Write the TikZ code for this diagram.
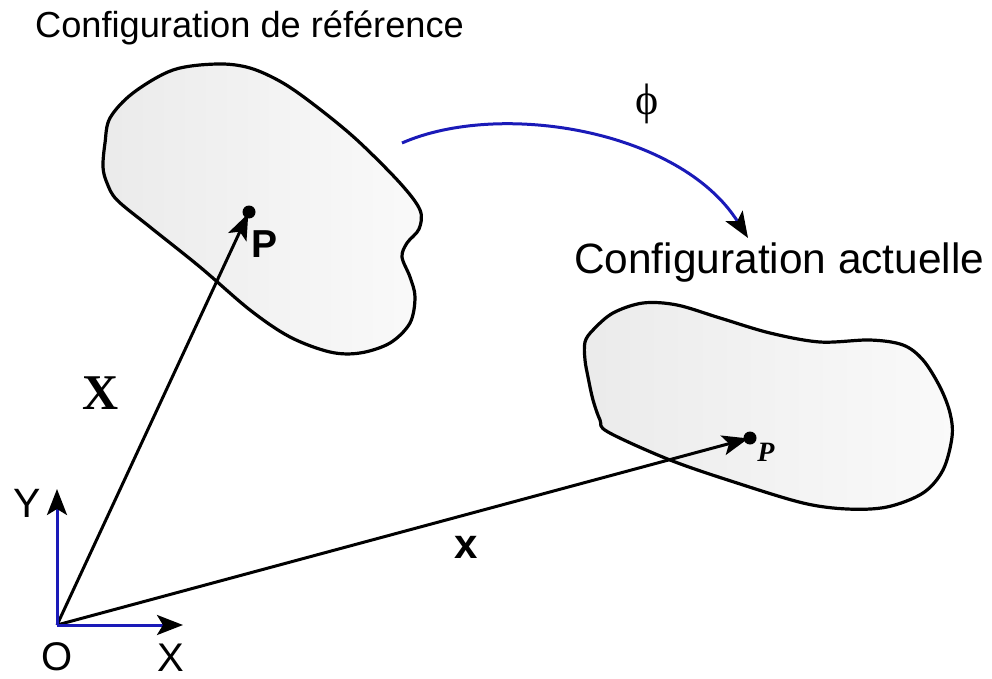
\documentclass[tikz,border=0pt]{standalone}
\usepackage{fontspec}
\setmainfont{Liberation Serif}
\setsansfont{Liberation Sans}
\usepackage{xcolor}
\usetikzlibrary{arrows.meta,calc}
\tikzset{>={Stealth[length=26pt,width=20pt,inset=6pt]}}
\definecolor{axeblue}{HTML}{1A1AB8}

\begin{document}
\begin{tikzpicture}[x=1pt,y=-1pt,
  blob/.style={draw=black,line width=3.2pt,left color=black!8,right color=black!2},
  vec/.style={->,line width=3pt,shorten >=-5pt},
  axe/.style={draw=axeblue,line width=3pt,-{Stealth[length=26pt,width=20pt,inset=6pt,black]}},
  dotP/.style={circle,fill=black,inner sep=0pt,minimum size=13pt}]
\useasboundingbox (0,0) rectangle (992,679);
% reference and current configurations
\draw[blob] plot[smooth cycle,tension=0.55] coordinates {
  (110,118) (133,93) (173,70) (217,64) (250,68) (283,83) (317,107) (357,140)
  (400,183) (420,210) (419,229) (407,243) (402,257) (410,277) (415,297)
  (410,323) (390,343) (360,353) (330,352) (290,337) (250,310) (200,267)
  (150,227) (117,200) (107,183) (103,167) (105,143)};
\draw[blob] plot[smooth cycle,tension=0.55] coordinates {
  (585,342) (593,330) (613,313) (643,303) (677,305) (720,318) (770,333)
  (820,342) (870,340) (903,345) (923,360) (940,387) (950,413) (952,437)
  (943,470) (923,493) (887,507) (847,509) (803,503) (737,483) (670,460)
  (608,432) (600,420) (593,400) (588,377) (585,360)};
\coordinate (O) at (57,625);
\coordinate (Yend) at (57,489);
\coordinate (Xend) at (183,625);
\node[dotP] (P1) at (249,212) {};
\node[dotP] (P2) at (750,438) {};
\coordinate (phiA) at (402,143);
\coordinate (phiB) at (748,238);
% texts
\node[anchor=base west,inner sep=0pt] (tref) at (35,38)
  {\sffamily\fontsize{36.2}{42}\selectfont Configuration de r\'ef\'erence};
\node[anchor=base west,inner sep=0pt] (tact) at (574,273)
  {\sffamily\fontsize{42.4}{48}\selectfont Configuration actuelle};
\node (phi) at (647,104) {\fontsize{44}{50}\selectfont ϕ};
\node (lX) at (101,393) {\fontsize{50}{56}\selectfont\bfseries X};
\node (lx) at (466,547) {\sffamily\bfseries\fontsize{42}{48}\selectfont x};
\node (lP1) at (265,244) {\sffamily\bfseries\fontsize{39}{44}\selectfont P};
\node (lP2) at (766,452) {\bfseries\itshape\fontsize{28}{32}\selectfont P};
\node (lY) at (27,503) {\sffamily\fontsize{41}{46}\selectfont Y};
\node[inner sep=1pt] (lO) at (57,657) {\sffamily\fontsize{40}{46}\selectfont O};
\node[inner sep=1pt] (lXa) at (171,658) {\sffamily\fontsize{40}{46}\selectfont X};
% vectors
\draw[vec] (O) -- (P1);
\draw[vec] (O) -- (P2);
\draw[axe] (O) -- (Yend);
\draw[axe] (O) -- (Xend);
\draw[axe] (phiA) .. controls (500,100) and (680,130) .. (phiB);
\end{tikzpicture}
\end{document}
